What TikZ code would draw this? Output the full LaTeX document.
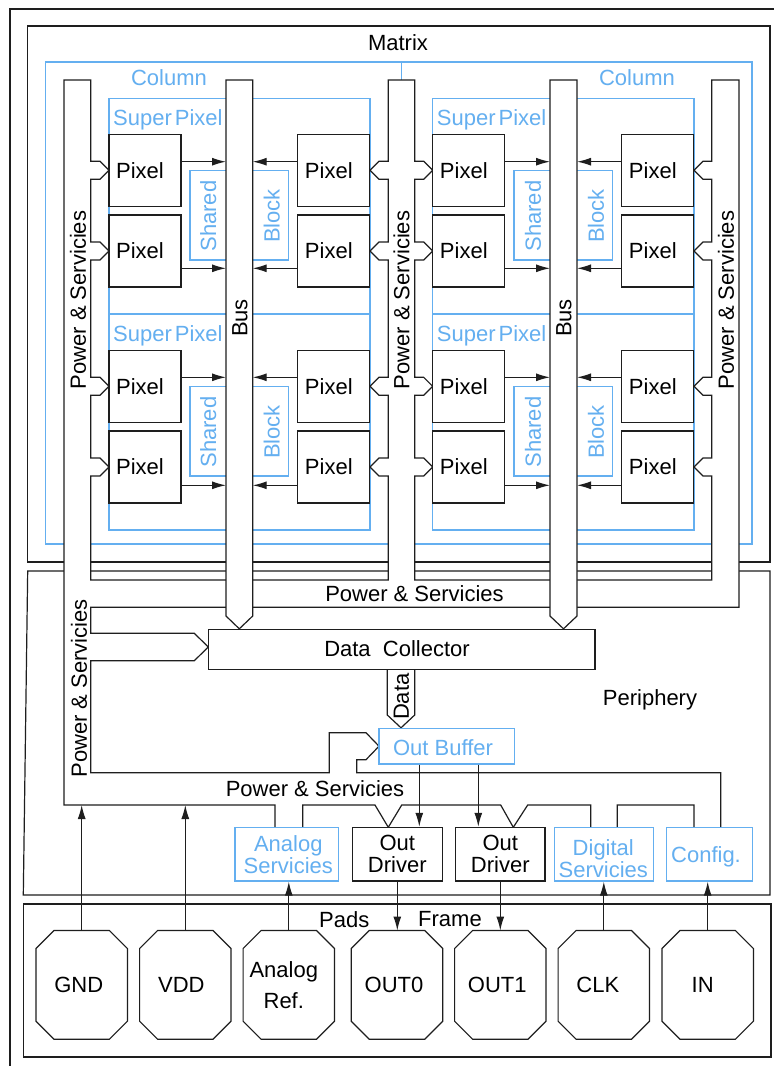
\documentclass[tikz,border=0pt]{standalone}
\usepackage{fontspec}
\setmainfont{Liberation Sans}
\usetikzlibrary{arrows.meta}
\definecolor{bl}{RGB}{100,175,240}
\definecolor{lk}{RGB}{30,30,30}
\newcommand\octo[1]{\draw[ln] ([xshift=18pt]#1.north west) -- ([xshift=-18pt]#1.north east) -- ([yshift=-18pt]#1.north east) -- ([yshift=18pt]#1.south east) -- ([xshift=-18pt]#1.south east) -- ([xshift=18pt]#1.south west) -- ([yshift=18pt]#1.south west) -- ([yshift=-18pt]#1.north west) -- cycle;}
\tikzset{
 ln/.style={draw=lk,line width=1.2pt},
 bb/.style={draw=bl,line width=1.2pt},
 tx/.style={font=\fontsize{22}{22}\selectfont,inner sep=0pt,text=black},
 btx/.style={tx,text=bl},
 kbox/.style 2 args={ln,fill=white,inner sep=0pt,minimum width=#1,minimum height=#2},
 bbox/.style 2 args={bb,fill=white,inner sep=0pt,minimum width=#1,minimum height=#2},
 pix/.style={kbox={72pt}{72pt}},
 pad/.style={inner sep=0pt,minimum width=91pt,minimum height=108.3pt},
 arr/.style={draw=lk,line width=1.2pt,-{Latex[length=14pt,width=8pt]}},
 chd/.style n args={4}{insert path={--(#1,#4-9)--(#2,#4-9)--(#3,#4)--(#2,#4+9)--(#1,#4+9)}},
 chu/.style n args={4}{insert path={--(#1,#4+9)--(#2,#4+9)--(#3,#4)--(#2,#4-9)--(#1,#4-9)}},
}
\begin{document}
\begin{tikzpicture}[x=1pt,y=-1pt]
\useasboundingbox (0,0) rectangle (774,1066);
\clip (0,0) rectangle (774,1066);
\fill[white] (0,0) rectangle (774,1066);
% frames
\draw[draw=lk,line width=2.6pt] (10,1080) -- (10,9) -- (790,9);
\draw[ln] (27.7,26) rectangle (770,562);
\draw[ln] (27.7,571) -- (770,571) -- (770,895) -- (23.3,895) -- cycle;
\draw[ln] (23.3,904) rectangle (771,1057);
% blue structure
\draw[bb] (45.7,62) rectangle (752,544);
\draw[bb] (401.7,62) -- (401.7,544);
\foreach \xa/\xb in {109/370,432.7/694}{
  \draw[bb] (\xa,98.3) rectangle (\xb,314);
  \draw[bb] (\xa,314) rectangle (\xb,530);
}
\foreach \xa/\xb in {190/288.7,514/612.7}{
  \draw[bb] (\xa,170.3) rectangle (\xb,260);
  \draw[bb] (\xa,386.3) rectangle (\xb,476);
}
% power network
\path[ln,fill=white] (64,80) -- (90.7,80)
 [chd={90.7}{100}{109}{170.2}] [chd={90.7}{100}{109}{251}] [chd={90.7}{100}{109}{386.3}] [chd={90.7}{100}{109}{467}]
 -- (90.7,580) -- (388.3,580)
 [chu={388.3}{379}{370}{467}] [chu={388.3}{379}{370}{386.3}] [chu={388.3}{379}{370}{251}] [chu={388.3}{379}{370}{170.2}]
 -- (388.3,80) -- (414.7,80)
 [chd={414.7}{423.7}{432.7}{170.2}] [chd={414.7}{423.7}{432.7}{251}] [chd={414.7}{423.7}{432.7}{386.3}] [chd={414.7}{423.7}{432.7}{467}]
 -- (414.7,580) -- (711.7,580)
 [chu={711.7}{703}{694}{467}] [chu={711.7}{703}{694}{386.3}] [chu={711.7}{703}{694}{251}] [chu={711.7}{703}{694}{170.2}]
 -- (711.7,80) -- (739,80) -- (739,607.3) -- (90.7,607.3) -- (90.7,633.3) -- (194.3,633.3) -- (208.3,647) -- (194.3,660.7) -- (90.7,660.7) -- (90.7,772.7) -- (329.3,772.7) -- (329.3,732.7) -- (366,732.7) -- (379,746.2) -- (366,759.7) -- (356.7,759.7) -- (356.7,772.7) -- (720.7,772.7) -- (720.7,829) -- (694,829) -- (694,805) -- (617.3,805) -- (617.3,829) -- (590.7,829) -- (590.7,805) -- (527.7,805) -- (513.3,827.3) -- (500.7,805) -- (401.7,805) -- (388.3,827.3) -- (375,805) -- (302.7,805) -- (302.7,829) -- (275,829) -- (275,805) -- (64,805) -- cycle;
% bus bars
\path[ln,fill=white] (226,80) -- (252.7,80) -- (252.7,616) -- (239.3,628.8) -- (226,616) -- cycle;
\path[ln,fill=white] (550,80) -- (577,80) -- (577,616) -- (563.5,628.8) -- (550,616) -- cycle;
\path[ln,fill=white] (387.3,669.3) -- (387.3,715) -- (401,727.8) -- (414.7,715) -- (414.7,669.3) -- cycle;
\coordinate (b1w) at (226,0);
\coordinate (b1e) at (252.7,0);
\coordinate (b2w) at (550,0);
\coordinate (b2e) at (577,0);
\coordinate (pbot) at (0,805);
% pixels
\foreach \r/\y in {1/170.2,2/251,3/386.3,4/467}{
  \node[pix] (pA\r) at (145,\y) {};
  \node[pix] (pB\r) at (333.8,\y) {};
  \node[pix] (pC\r) at (468.8,\y) {};
  \node[pix] (pD\r) at (657.8,\y) {};
  \foreach \n in {A,B,C,D} \node[tx] at ([xshift=-5pt]p\n\r) {Pixel};
}
\foreach \r/\s in {1/8.5,2/-17.3,3/9,4/-18.3}{
  \draw[arr] ([yshift=\s pt]pA\r.east) -- ([yshift=\s pt]pA\r.east -| b1w);
  \draw[arr] ([yshift=\s pt]pB\r.west) -- ([yshift=\s pt]pB\r.west -| b1e);
  \draw[arr] ([yshift=\s pt]pC\r.east) -- ([yshift=\s pt]pC\r.east -| b2w);
  \draw[arr] ([yshift=\s pt]pD\r.west) -- ([yshift=\s pt]pD\r.west -| b2e);
}
% periphery blocks
\node[kbox={386.7pt}{40pt}] (dc) at (401.7,649.3) {};
\node[bbox={135.3pt}{35.7pt}] (ob) at (446.7,746.2) {};
\node[kbox={90pt}{53.7pt},tx,align=center] (od1) at (397.3,854.2) {Out\\Driver};
\node[kbox={89.3pt}{53.7pt},tx,align=center] (od2) at (500.3,854.2) {Out\\Driver};
\node[bbox={103.3pt}{53.7pt}] (anas) at (286.7,854.2) {};
\node[btx,align=center] at (288.3,854.2) {Analog\\Servicies};
\node[bbox={99pt}{53.7pt}] (dgs) at (603.8,854.2) {};
\node[btx,align=center] at (603.3,858.3) {Digital\\Servicies};
\node[bbox={85.6pt}{53.7pt}] (cfg) at (709.5,854.2) {};
\node[btx] at (706,856.5) {Config.};
% pads
\foreach \n/\x in {gnd/81.7,vdd/185.3,aref/288.8,out0/397,out1/500.3,clk/603.8,padin/707.7}{
  \node[pad] (\n) at (\x,984.85) {};
  \octo{\n}
}
\node[tx] at ([xshift=-3pt]gnd) {GND};
\node[tx] at ([xshift=-4pt]vdd) {VDD};
\node[tx,align=center,font=\fontsize{22}{31}\selectfont] at ([xshift=-5pt,yshift=0pt]aref) {Analog\\Ref.};
\node[tx] at ([xshift=-3pt]out0) {OUT0};
\node[tx] at ([xshift=-3pt]out1) {OUT1};
\node[tx] at ([xshift=-6pt]clk) {CLK};
\node[tx] at ([xshift=-5pt]padin) {IN};
% arrows in periphery
\draw[arr] (gnd.north) -- (gnd.north |- pbot);
\draw[arr] (vdd.north) -- (vdd.north |- pbot);
\draw[arr] (aref.north) -- (aref.north |- anas.south);
\draw[arr] (clk.north) -- (clk.north |- dgs.south);
\draw[arr] (padin.north) -- (padin.north |- cfg.south);
\draw[arr] (od1.south) -- (od1.south |- out0.north);
\draw[arr] (od2.south) -- (od2.south |- out1.north);
\coordinate (ob1) at ([xshift=-27.4pt]ob.south);
\coordinate (ob2) at ([xshift=31.6pt]ob.south);
\draw[arr] (ob1) -- (ob1 |- od1.north);
\draw[arr] (ob2) -- (ob2 |- od2.north);
% labels
\node[tx] at (398,42.3) {Matrix};
\node[btx] at (169,77.7) {Column};
\node[btx] at (637,77.7) {Column};
\foreach \x/\y in {113/119.5,436.7/119.5,113/335.8,436.7/335.8}
  \node[btx,anchor=west] at (\x,\y) {Super\hspace{3pt}Pixel};
\foreach \y in {216,432}{
  \node[btx,rotate=90] at (208.3,\y) {Shared};
  \node[btx,rotate=90] at (271.7,\y) {Block};
  \node[btx,rotate=90] at (533,\y) {Shared};
  \node[btx,rotate=90] at (596,\y) {Block};
}
\node[tx,rotate=90] at (240,318) {Bus};
\node[tx,rotate=90] at (564,318) {Bus};
\node[tx,rotate=90] at (78,300) {Power \& Servicies};
\node[tx,rotate=90] at (401.5,300) {Power \& Servicies};
\node[tx,rotate=90] at (726,300) {Power \& Servicies};
\node[tx,rotate=90] at (79,688.3) {Power \& Servicies};
\node[tx] at (414.5,594) {Power \& Servicies};
\node[tx] at (315,788.3) {Power \& Servicies};
\node[tx] at (397,648.3) {Data\ \ Collector};
\node[tx,rotate=90] at (401.5,696.7) {Data};
\node[btx] at (443,747.7) {Out Buffer};
\node[tx] at (650,700) {Periphery};
\node[tx] at (344.2,919.3) {Pads};
\node[tx] at (450,919.3) {Frame};
\end{tikzpicture}
\end{document}
